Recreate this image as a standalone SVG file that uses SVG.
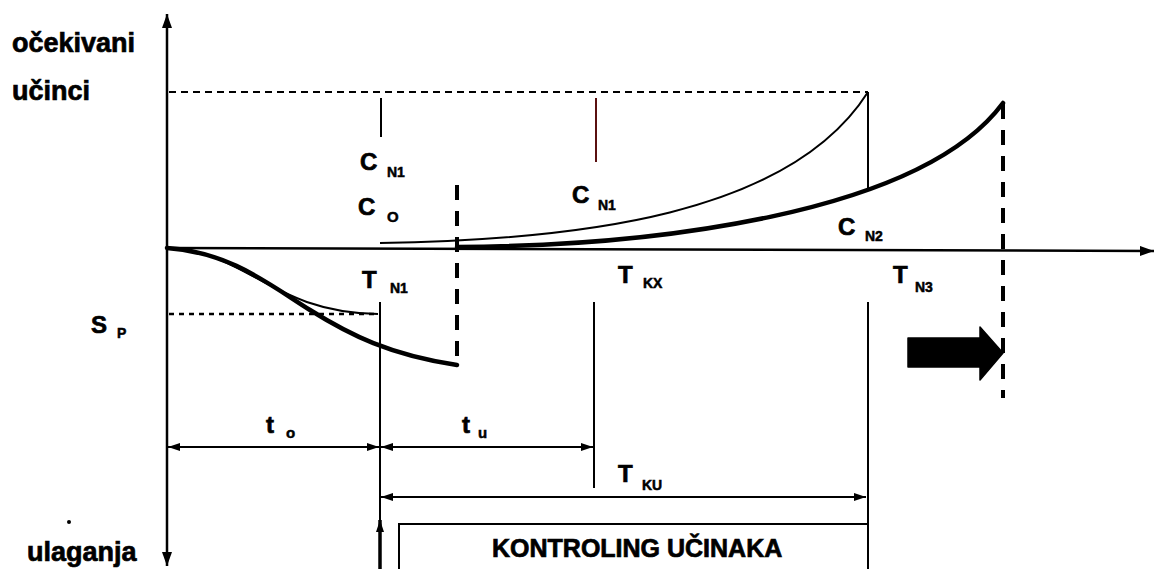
<svg xmlns="http://www.w3.org/2000/svg" width="1161" height="569" viewBox="0 0 1161 569">
<style>
text{font-family:"Liberation Sans",Arial,sans-serif;font-weight:bold;fill:#000;stroke:#000;stroke-width:0.7}
.big{font-size:27px}
.lbl{font-size:24px}
.sub{font-size:14px;stroke-width:0.5}
.ln{stroke:#000;stroke-width:2;fill:none}
.ax{stroke:#000;stroke-width:2.5;fill:none}
.thin{stroke:#000;stroke-width:2;fill:none}
.thick{stroke:#000;stroke-width:4.5;fill:none;stroke-linecap:round}
.dash{stroke:#000;stroke-width:4;fill:none;stroke-dasharray:15 11}
.dot{stroke:#000;stroke-width:2.2;fill:none;stroke-dasharray:7 5}
.dot2{stroke:#000;stroke-width:2.5;fill:none;stroke-dasharray:5 5}
</style>
<defs>
<marker id="ah" viewBox="0 0 12 8" refX="12" refY="4" markerWidth="12" markerHeight="8" markerUnits="userSpaceOnUse" orient="auto-start-reverse">
<path d="M0,0 L12,4 L0,8 z" fill="#000"/>
</marker>
<marker id="axh" viewBox="0 0 14 10" refX="14" refY="5" markerWidth="14" markerHeight="10" markerUnits="userSpaceOnUse" orient="auto-start-reverse">
<path d="M0,0 L14,5 L0,10 z" fill="#000"/>
</marker>
</defs>
<rect width="1161" height="569" fill="#fff"/>

<g id="axes">
<line class="ax" x1="167" y1="566" x2="167" y2="14" marker-start="url(#axh)" marker-end="url(#axh)"/>
<line class="ax" x1="167" y1="248" x2="1154" y2="251" marker-end="url(#axh)"/>
</g>

<g id="axis-labels">
<text class="big" x="12" y="52">očekivani</text>
<text class="big" x="12" y="100">učinci</text>
<text class="big" x="27" y="561">ulaganja</text>
<circle cx="69" cy="522" r="2" fill="#000"/>
</g>

<g id="connectors">
<line class="dot" x1="169" y1="92" x2="868" y2="92"/>
<line class="dot2" x1="169" y1="314" x2="378" y2="314"/>
<line class="thin" x1="381" y1="98" x2="381" y2="137"/>
<line x1="596" y1="98" x2="596" y2="162" stroke="#5a1010" stroke-width="2"/>
<line class="ln" x1="868" y1="92" x2="868" y2="190"/>
<line class="ln" x1="868" y1="302" x2="868" y2="569"/>
<line class="ln" x1="380" y1="302" x2="380" y2="569"/>
<line x1="380" y1="569" x2="380" y2="520" stroke="#000" stroke-width="3.5" marker-end="url(#ah)"/>
<line class="ln" x1="594" y1="302" x2="594" y2="488"/>
<line class="dash" x1="457" y1="185" x2="457" y2="366"/>
<line class="dash" x1="1003" y1="104" x2="1003" y2="398"/>
<path class="thin" d="M380,243 C580,240 790,215 868,92"/>
<path class="thick" d="M457,247 C650,246 920,215 1003,103"/>
<path class="thin" d="M167,248 C250,252 270,312 378,314"/>
<path class="thick" d="M167,248 C230,252 270,285 310,310 C350,335 390,355 457,365"/>
<line class="ln" x1="168" y1="447" x2="379" y2="447" marker-start="url(#ah)" marker-end="url(#ah)"/>
<line class="ln" x1="381" y1="447" x2="593" y2="447" marker-start="url(#ah)" marker-end="url(#ah)"/>
<line class="ln" x1="381" y1="497" x2="866" y2="497" marker-start="url(#ah)" marker-end="url(#ah)"/>
</g>

<g id="block-arrow">
<path d="M908,338 L980,338 L980,327 L1003,353 L980,380 L980,367 L908,367 z" fill="#000" stroke="#000" stroke-width="1.5" stroke-linejoin="round"/>
</g>

<g id="labels">
<text class="lbl" x="360" y="170">C</text><text class="sub" x="387" y="177">N1</text>
<text class="lbl" x="358" y="215">C</text><text class="sub" x="387" y="222" style="font-size:15px">O</text>
<text class="lbl" x="362" y="288">T</text><text class="sub" x="390" y="293">N1</text>
<text class="lbl" x="572" y="203">C</text><text class="sub" x="598" y="210">N1</text>
<text class="lbl" x="618" y="283">T</text><text class="sub" x="643" y="288">KX</text>
<text class="lbl" x="838" y="235">C</text><text class="sub" x="865" y="241">N2</text>
<text class="lbl" x="893" y="283">T</text><text class="sub" x="915" y="292">N3</text>
<text class="lbl" x="91" y="333">S</text><text class="sub" x="117" y="338">P</text>
<text class="lbl" x="266" y="433">t</text><text class="sub" x="286" y="438" style="font-size:15px">o</text>
<text class="lbl" x="462" y="433">t</text><text class="sub" x="478" y="438" style="font-size:15px">u</text>
<text class="lbl" x="618" y="482">T</text><text class="sub" x="642" y="490">KU</text>
</g>

<g id="kontroling">
<rect x="399" y="524" width="469" height="60" fill="none" stroke="#000" stroke-width="2"/>
<text x="492" y="557" style="font-size:25px">KONTROLING UČINAKA</text>
</g>
</svg>
